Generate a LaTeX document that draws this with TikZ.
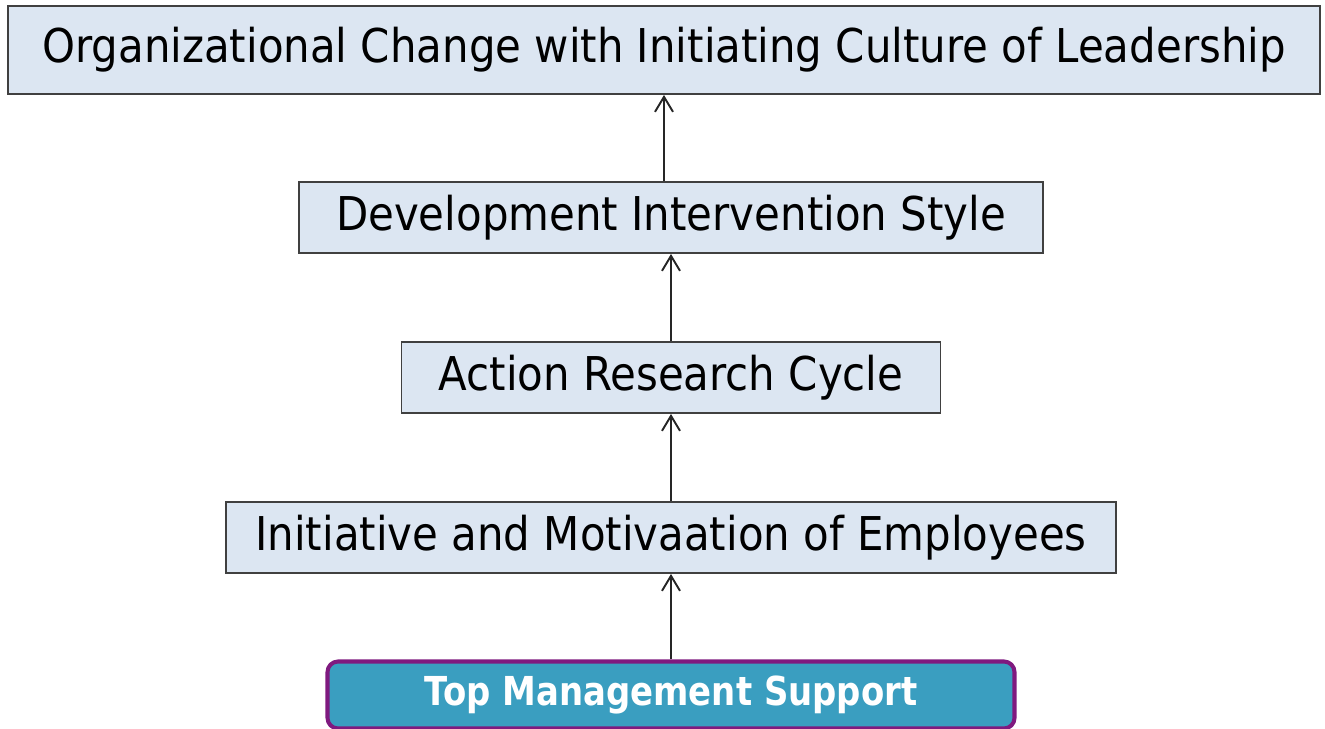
\documentclass[tikz,border=0pt]{standalone}
\usepackage{fontspec}
\usetikzlibrary{arrows.meta}
\newfontfamily\boxfont[FakeStretch=0.9]{DejaVu Sans}
\newfontfamily\basefont[FakeStretch=0.85]{DejaVu Sans Bold}
\definecolor{boxfill}{HTML}{DCE6F2}
\definecolor{boxline}{HTML}{404040}
\definecolor{basefill}{HTML}{3A9EC0}
\definecolor{baseline}{HTML}{7F1A7F}
\tikzset{
  stage/.style={draw=boxline,line width=1.1pt,fill=boxfill,inner sep=0pt,
    minimum height=1.42cm,font=\boxfont\fontsize{26.5}{30}\selectfont},
  basebox/.style={draw=baseline,line width=2.3pt,fill=basefill,rounded corners=6pt,
    inner sep=0pt,minimum width=13.74cm,minimum height=1.34cm,text=white,
    font=\basefont\fontsize{22.7}{26}\selectfont},
  flow/.style={line width=1.1pt,black!85,-{Straight Barb[length=3mm,width=3.6mm,line width=1.1pt]}},
}
\begin{document}
\begin{tikzpicture}
  \useasboundingbox (0,0) rectangle (26.5,14.58);
  % --- stages, bottom to top ---
  \node[basebox] (base) at (13.42,0.68) {Top Management Support};
  \node[stage,minimum width=17.8cm] (init) at (13.42,3.83) {Initiative and Motivaation of Employees};
  \node[stage,minimum width=10.78cm] (cycle) at (13.42,7.03) {Action Research Cycle};
  \node[stage,minimum width=14.88cm] (style) at (13.42,10.23) {Development Intervention Style};
  \node[stage,minimum width=26.24cm,minimum height=1.76cm] (change) at (13.28,13.58)
    {Organizational Change with Initiating Culture of Leadership};
  % --- arrows between stages ---
  \draw[flow] (base) -- (init);
  \draw[flow] (init) -- (cycle);
  \draw[flow] (cycle) -- (style);
  \draw[flow] (change.south |- style.north) -- (change.south);
\end{tikzpicture}
\end{document}
